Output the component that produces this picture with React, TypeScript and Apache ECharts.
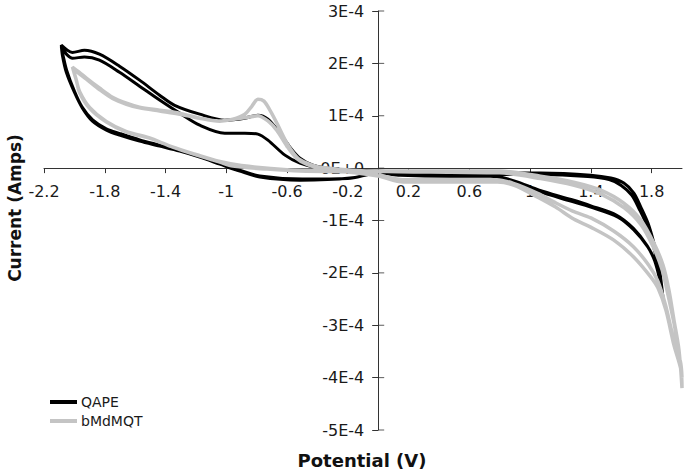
import React, { useEffect, useRef } from "react";
import * as echarts from "echarts";

// Potential (V) and current (in units of 1E-4 A), cycles concatenated
const QAPE_POTENTIAL = [
  0, -0.185, -0.515, -0.779, -0.911, -1.043, -1.175, -1.307, -1.439, -1.571, -1.703, -1.789, -1.881, -1.947, -2.0, -2.053, -2.079, -2.086,
  -2.046, -2.013, -1.934, -1.835, -1.703, -1.571, -1.439, -1.34, -1.175, -1.01, -0.878, -0.792, -0.726, -0.647, -0.581, -0.515, -0.429, -0.284, 0,
  0.343, 0.739, 1.069, 1.399, 1.531, 1.617, 1.683, 1.729, 1.776, 1.815, 1.848, 1.875,
  1.861, 1.828, 1.776, 1.683, 1.578, 1.399, 1.267, 1.05, 0.891, 0.739, 0.475, 0.145, 0,
  -0.2, -0.5, -0.78, -0.92, -1.05, -1.18, -1.31, -1.44, -1.57, -1.7, -1.79, -1.88, -1.95, -2.0, -2.05, -2.075, -2.086,
  -2.046, -2.013, -1.934, -1.835, -1.703, -1.571, -1.439, -1.307, -1.175, -1.01, -0.878, -0.792, -0.726, -0.614, -0.515, -0.383, 0,
  0.35, 0.75, 1.07, 1.38, 1.52, 1.6, 1.67, 1.72, 1.77, 1.81, 1.845, 1.87,
  1.855, 1.82, 1.77, 1.68, 1.57, 1.4, 1.27, 1.06, 0.9, 0.74, 0.48, 0.15, 0,
];
const QAPE_CURRENT = [
  -0.076, -0.19, -0.23, -0.17, -0.057, 0.076, 0.21, 0.324, 0.42, 0.515, 0.63, 0.725, 0.897, 1.145, 1.45, 1.83, 2.157, 2.347,
  2.25, 2.21, 2.25, 2.175, 1.947, 1.68, 1.393, 1.2, 1.03, 0.916, 0.954, 1.01, 0.935, 0.668, 0.4, 0.19, 0.057, -0.02, -0.076,
  -0.095, -0.095, -0.095, -0.134, -0.19, -0.286, -0.477, -0.744, -1.05, -1.43, -1.85, -2.48,
  -2.195, -1.81, -1.51, -1.18, -0.935, -0.744, -0.63, -0.44, -0.267, -0.153, -0.153, -0.134, -0.095,
  -0.2, -0.21, -0.15, -0.03, 0.1, 0.23, 0.34, 0.44, 0.54, 0.66, 0.75, 0.92, 1.17, 1.47, 1.86, 2.16, 2.31,
  2.157, 2.1, 2.12, 2.06, 1.83, 1.565, 1.3, 1.05, 0.82, 0.668, 0.668, 0.65, 0.534, 0.248, 0.095, 0, -0.057,
  -0.12, -0.12, -0.12, -0.16, -0.22, -0.33, -0.52, -0.79, -1.1, -1.47, -1.88, -2.4,
  -2.15, -1.77, -1.48, -1.15, -0.9, -0.72, -0.6, -0.42, -0.25, -0.14, -0.14, -0.12, -0.08,
];

const BMD_POTENTIAL = [
  0, -0.073, -0.515, -0.733, -0.957, -1.043, -1.195, -1.353, -1.505, -1.657, -1.789, -1.901, -1.967, -1.987, -2.013,
  -1.967, -1.921, -1.835, -1.749, -1.657, -1.571, -1.439, -1.307, -1.175, -1.043, -0.957, -0.878, -0.832, -0.792, -0.752, -0.713, -0.667, -0.601, -0.535, -0.469, -0.383, 0,
  0.475, 0.805, 1.069, 1.287, 1.465, 1.617, 1.729, 1.815, 1.875, 1.914, 1.947, 1.98, 2.0,
  1.993, 1.947, 1.894, 1.842, 1.795, 1.683, 1.551, 1.399, 1.287, 1.168, 1.05, 0.891, 0.785, 0.495, 0.165, 0,
  -0.3, -0.6, -0.9, -1.05, -1.2, -1.36, -1.51, -1.66, -1.79, -1.9, -1.965, -1.99, -2.01,
  -1.967, -1.921, -1.835, -1.749, -1.657, -1.571, -1.439, -1.307, -1.175, -1.043, -0.957, -0.878, -0.792, -0.726, -0.667, -0.601, -0.535, -0.469, -0.383, 0,
  0.48, 0.8, 1.07, 1.29, 1.47, 1.62, 1.73, 1.81, 1.87, 1.91, 1.95, 1.98, 2.0,
  1.99, 1.94, 1.89, 1.84, 1.78, 1.68, 1.55, 1.4, 1.28, 1.16, 1.05, 0.89, 0.78, 0.5, 0.16, 0,
];
const BMD_CURRENT = [
  -0.095, -0.076, -0.057, -0.019, 0.038, 0.115, 0.248, 0.4, 0.573, 0.687, 0.878, 1.145, 1.45, 1.68, 1.93,
  1.83, 1.72, 1.53, 1.355, 1.24, 1.164, 1.107, 1.05, 0.954, 0.897, 0.935, 1.03, 1.18, 1.317, 1.28, 1.107, 0.859, 0.477, 0.21, 0.095, 0.019, -0.057,
  -0.057, -0.057, -0.153, -0.267, -0.42, -0.668, -0.99, -1.43, -1.85, -2.33, -2.9, -3.47, -4.2,
  -3.85, -3.38, -2.71, -2.29, -2.08, -1.7, -1.374, -1.126, -0.973, -0.744, -0.553, -0.324, -0.267, -0.267, -0.267, -0.153,
  -0.05, -0.03, 0.05, 0.13, 0.26, 0.41, 0.58, 0.7, 0.89, 1.16, 1.46, 1.7, 1.9,
  1.8, 1.7, 1.5, 1.33, 1.22, 1.15, 1.09, 1.03, 0.95, 0.9, 0.93, 0.96, 1.0, 0.9, 0.72, 0.42, 0.18, 0.07, 0.0, -0.06,
  -0.08, -0.09, -0.2, -0.33, -0.5, -0.76, -1.08, -1.5, -1.95, -2.45, -3.0, -3.55, -4.0,
  -3.7, -3.2, -2.6, -2.15, -1.85, -1.5, -1.2, -0.95, -0.82, -0.65, -0.48, -0.29, -0.22, -0.22, -0.22, -0.12,
];

const X_TICKS = [-2.2, -1.8, -1.4, -1, -0.6, -0.2, 0.2, 0.6, 1, 1.4, 1.8];
const Y_TICKS = [-5, -4, -3, -2, -1, 0, 1, 2, 3];
const X_MIN = -2.2;
const X_MAX = 2.0;
const Y_MIN = -5;
const Y_MAX = 3;

const SERIES_NAMES = ["QAPE", "bMdMQT"];

const pairs = (xs: number[], ys: number[]) => xs.map((x, i) => [x, ys[i]]);

export default function App() {
  const ref = useRef<HTMLDivElement>(null);
  useEffect(() => {
    if (!ref.current) return;
    const chart = echarts.init(ref.current, null, { renderer: "svg" });
    const font = "DejaVu Sans";
    const axisColor = "#333";
    const W = 687;
    const H = 475;
    const grid = { left: 44, right: 5, top: 11, bottom: 45 };
    const gw = W - grid.left - grid.right;
    const gh = H - grid.top - grid.bottom;
    // move each axis (line, ticks and labels) to the other axis's zero
    const yAxisOffset = -gw * (0 - X_MIN) / (X_MAX - X_MIN);
    const xAxisOffset = -gh * (0 - Y_MIN) / (Y_MAX - Y_MIN);
    const yLabel = (v: number) => (Math.round(v) === 0 ? "0E+0" : `${Math.round(v)}E-4`);
    chart.setOption({
      animation: false,
      backgroundColor: "#fff",
      grid: { ...grid, containLabel: false },
      xAxis: {
        type: "value",
        min: X_MIN,
        max: X_MAX,
        position: "bottom",
        offset: xAxisOffset,
        axisLine: { onZero: false, lineStyle: { color: axisColor, width: 1 } },
        axisTick: { show: true, length: 5, customValues: X_TICKS, lineStyle: { color: axisColor } },
        axisLabel: {
          customValues: X_TICKS,
          margin: 15,
          color: "#1a1a1a",
          fontFamily: font,
          fontSize: 16,
          formatter: (v: number) => String(Math.round(v * 10) / 10),
        },
        splitLine: { show: false },
      },
      yAxis: {
        type: "value",
        min: Y_MIN,
        max: Y_MAX,
        position: "left",
        offset: yAxisOffset,
        axisLine: { onZero: false, show: true, lineStyle: { color: axisColor, width: 1 } },
        axisTick: { show: true, length: 6, customValues: Y_TICKS, lineStyle: { color: axisColor } },
        axisLabel: {
          customValues: Y_TICKS,
          margin: 14,
          color: "#1a1a1a",
          fontFamily: font,
          fontSize: 16,
          formatter: yLabel,
        },
        splitLine: { show: false },
      },
      legend: {
        orient: "vertical",
        left: 50,
        top: 395,
        padding: 0,
        itemWidth: 27,
        itemHeight: 4,
        itemGap: 5,
        icon: "rect",
        textStyle: { fontFamily: font, fontSize: 14, color: "#1a1a1a", padding: [0, 0, 0, -1] },
        data: SERIES_NAMES,
      },
      series: [
        {
          name: SERIES_NAMES[0],
          type: "line",
          data: pairs(QAPE_POTENTIAL, QAPE_CURRENT),
          showSymbol: false,
          smooth: 0.3,
          lineStyle: { color: "#000", width: 3 },
          itemStyle: { color: "#000" },
          z: 2,
        },
        {
          name: SERIES_NAMES[1],
          type: "line",
          data: pairs(BMD_POTENTIAL, BMD_CURRENT),
          showSymbol: false,
          smooth: 0.3,
          lineStyle: { color: "#c4c4c4", width: 3.5 },
          itemStyle: { color: "#c4c4c4" },
          z: 3,
        },
        {
          // inner half of the y-axis cross ticks
          name: "yTicksInner",
          type: "scatter",
          data: Y_TICKS.map((v) => [0, v]),
          symbol: "rect",
          symbolSize: [6, 1],
          symbolOffset: [3, 0],
          itemStyle: { color: axisColor },
          silent: true,
          z: 1,
        },
      ],
      graphic: [
        {
          type: "text",
          x: 15,
          y: 208,
          rotation: Math.PI / 2,
          style: {
            text: "Current (Amps)",
            font: `bold 17px "${font}"`,
            fill: "#111",
            align: "center",
            verticalAlign: "middle",
          },
        },
        {
          type: "text",
          x: 362,
          y: 460,
          style: {
            text: "Potential (V)",
            font: `bold 18px "${font}"`,
            fill: "#111",
            align: "center",
            verticalAlign: "middle",
          },
        },
      ],
    });
    return () => chart.dispose();
  }, []);
  return <div ref={ref} style={{ width: 687, height: 475, position: "absolute", left: 0, top: 0 }} />;
}
